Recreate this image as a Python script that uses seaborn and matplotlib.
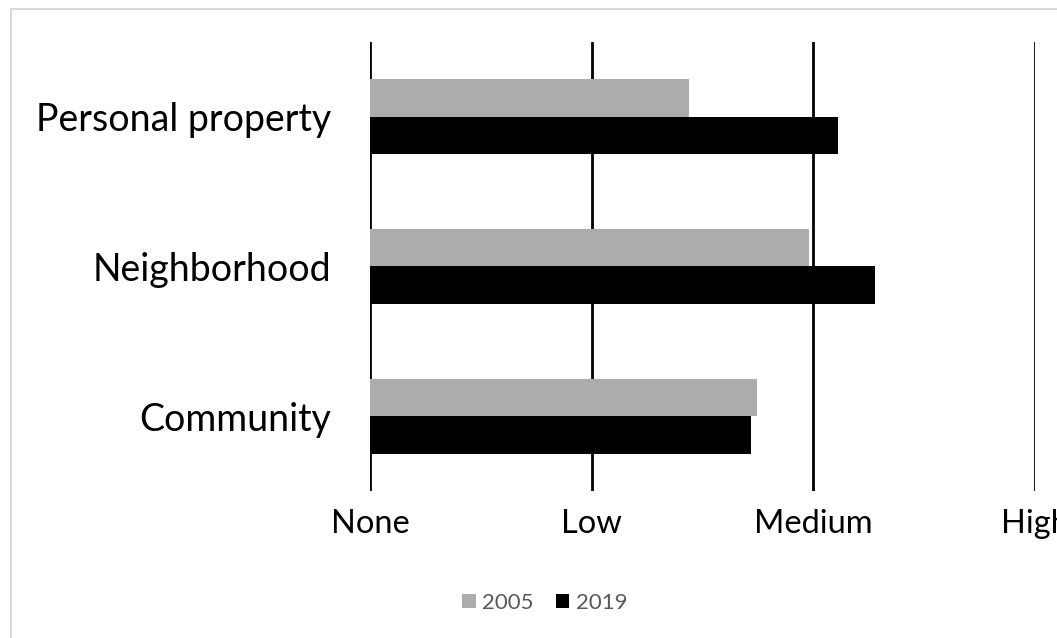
import matplotlib
matplotlib.use("Agg")
import matplotlib.pyplot as plt
import matplotlib.patches as mpatches
import pandas as pd
import seaborn as sns

# valores (0=None ... 3=High)
categories = ["Personal property", "Neighborhood", "Community"]
years = ["2005", "2019"]
values_2005 = [1.44, 1.98, 1.745]
values_2019 = [2.11, 2.28, 1.72]
tick_labels = ["None", "Low", "Medium", "High"]

GRAY = "#AEABAB"
BLACK = "#000000"

df = pd.DataFrame({
    "category": categories * 2,
    "year": [years[0]] * len(categories) + [years[1]] * len(categories),
    "value": values_2005 + values_2019,
})

sns.set_theme(style="white")
plt.rcParams["font.family"] = ["Lato", "DejaVu Sans"]

fig = plt.figure(figsize=(10.57, 6.38), dpi=100)
ax = fig.add_axes([0.350, 0.2304, 0.629, 0.7038])

sns.barplot(data=df, x="value", y="category", hue="year", order=categories,
            hue_order=years, palette=[GRAY, BLACK], orient="h", width=0.5,
            saturation=1, linewidth=0, ax=ax, legend=True)

ax.set_xlim(0, 3)
ax.set_ylim(2.5, -0.5)
ax.set_xticks(range(len(tick_labels)))
ax.set_xticklabels(tick_labels, fontsize=23.5)
ax.tick_params(axis="y", labelsize=27, pad=28, length=0)
ax.tick_params(axis="x", pad=13, length=0)
for t in ax.get_xticklabels() + ax.get_yticklabels():
    t.set_color("black")
ax.set_xlabel("")
ax.set_ylabel("")
for s in ax.spines.values():
    s.set_visible(False)
ax.grid(False)
for x in range(len(tick_labels)):
    ax.axvline(x, color="black", linewidth=2, zorder=0)

handles, labels = ax.get_legend_handles_labels()
ax.legend_.remove()
leg = fig.legend(handles, labels, loc="center", bbox_to_anchor=(545 / 1057, 1 - 603 / 638),
                 ncol=2, frameon=False, fontsize=16, handlelength=0.6, handleheight=0.6,
                 handletextpad=0.3, columnspacing=1.0)
for t in leg.get_texts():
    t.set_color("#595959")

# moldura cinza clara do gráfico
fig.patches.append(mpatches.Rectangle((11 / 1057, -0.05), 1.2, 1 - 9 / 638 + 0.05,
                                      transform=fig.transFigure, fill=False,
                                      edgecolor="#D9D9D9", linewidth=1.5))

fig.savefig("out.png", dpi=100)
plt.close(fig)
